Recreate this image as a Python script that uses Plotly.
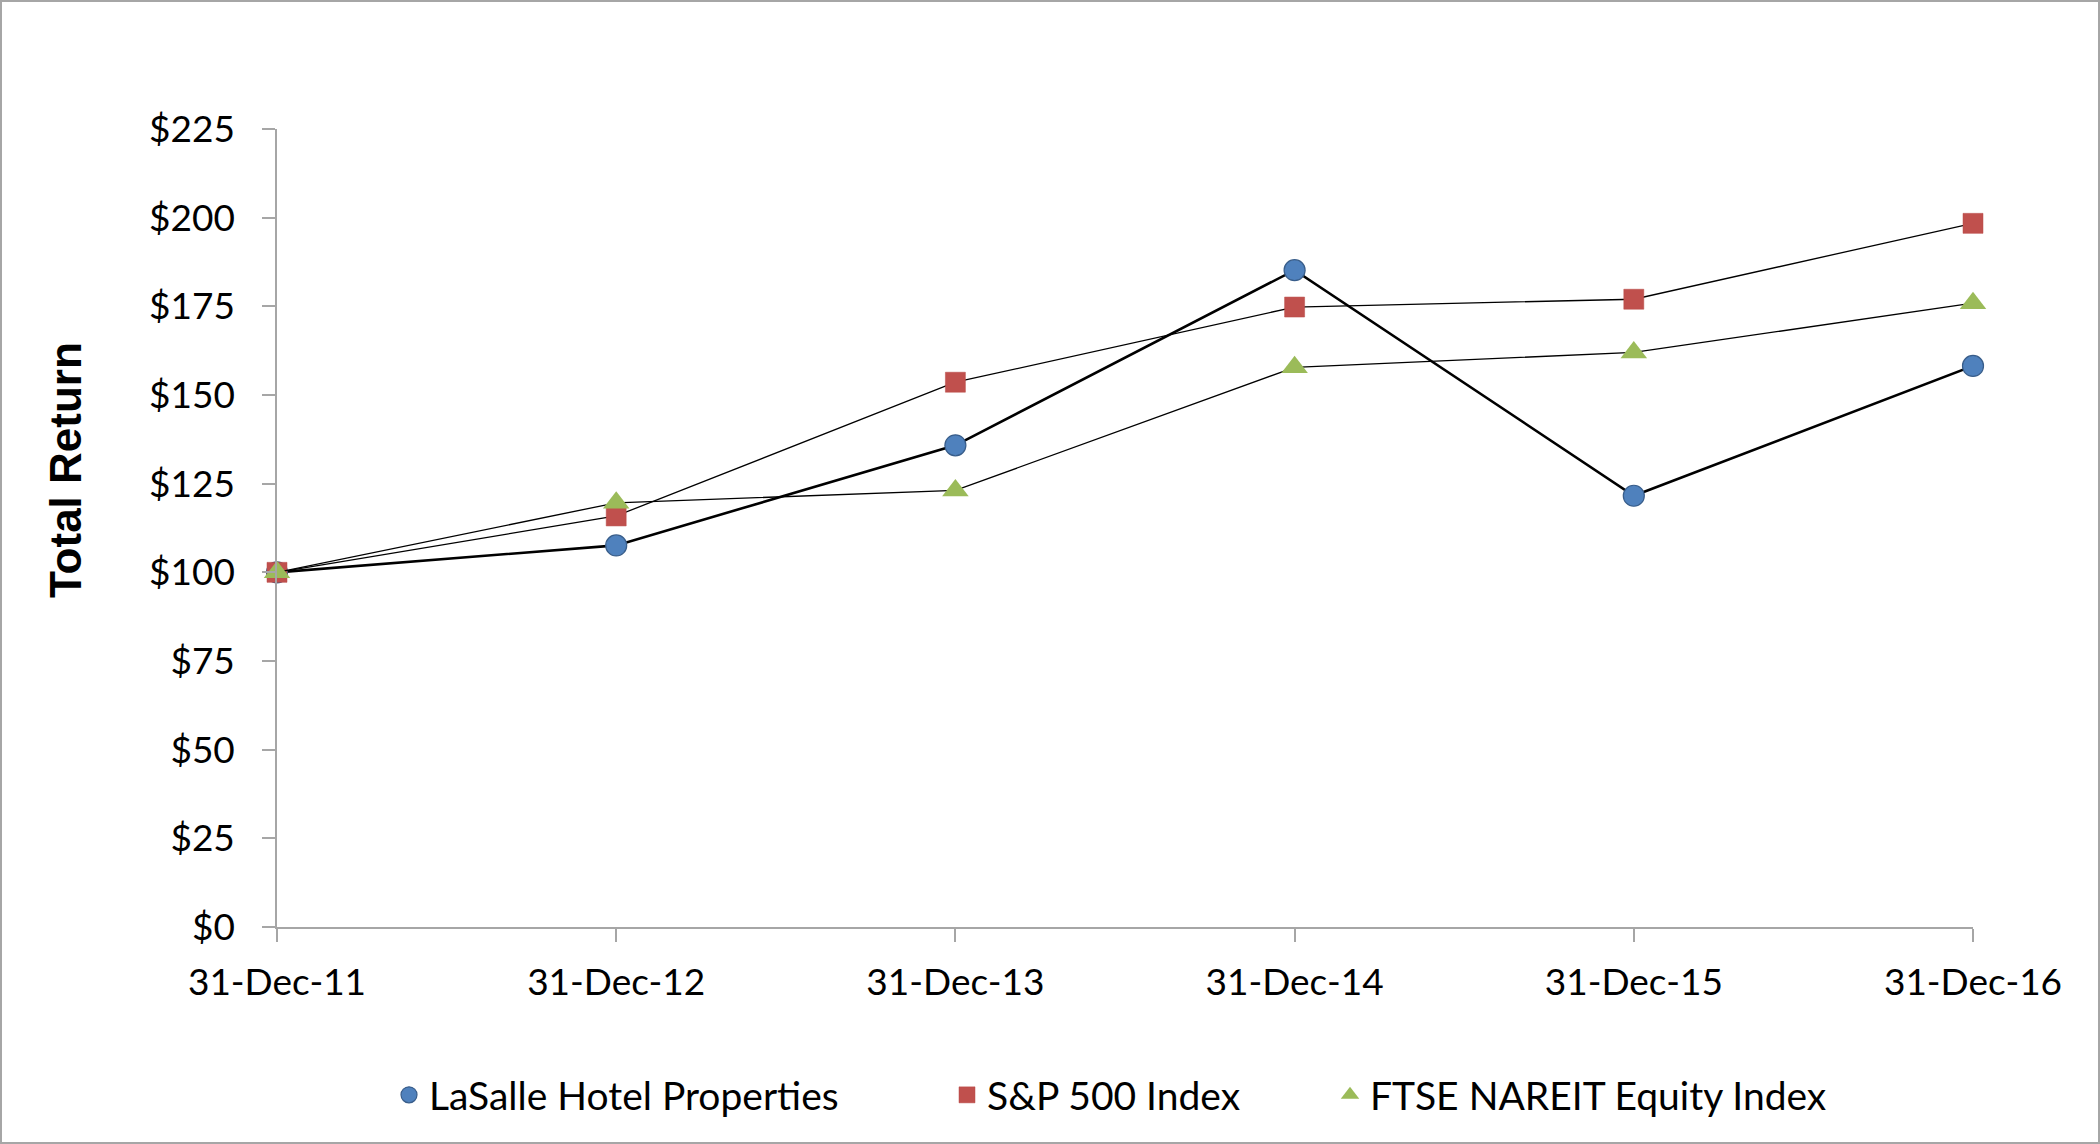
import plotly.graph_objects as go

dates = ["31-Dec-11", "31-Dec-12", "31-Dec-13", "31-Dec-14", "31-Dec-15", "31-Dec-16"]
lasalle = [100, 107.6, 135.8, 185.2, 121.6, 158.2]
sp500 = [100, 115.9, 153.6, 174.8, 177.0, 198.4]
ftse = [100, 119.6, 123.1, 157.8, 162.0, 175.9]
y_ticks = [0, 25, 50, 75, 100, 125, 150, 175, 200, 225]
y_tick_text = ["$" + str(v) for v in y_ticks]

W, H = 2100, 1144
L, R, T, B = 277, 127, 129, 217
pw, ph = W - L - R, H - T - B

FONT = "Lato"

series = [
    ("LaSalle Hotel Properties", lasalle, 2.6,
     dict(symbol="circle", size=21, color="#4F81BD", line=dict(color="#385D8A", width=1.2)), "legend"),
    ("S&P 500 Index", sp500, 1.3,
     dict(symbol="square", size=20, color="#C0504D", line=dict(color="#B84A47", width=0.5)), "legend2"),
    ("FTSE NAREIT Equity Index", ftse, 1.3,
     dict(symbol="triangle-up", size=23, color="#9BBB59", line=dict(width=0)), "legend3"),
]

fig = go.Figure()
for name, vals, lw, mk, leg in series:
    fig.add_trace(go.Scatter(
        x=dates, y=vals, name=name, mode="lines",
        line=dict(color="black", width=lw), showlegend=False, hoverinfo="skip"))
    fig.add_trace(go.Scatter(
        x=dates, y=vals, name=name, mode="markers",
        marker=mk, cliponaxis=False, legend=leg))

def px_x(p):
    return (p - L) / pw

def px_y(p):
    return (H - B - p) / ph

leg_common = dict(orientation="h", yanchor="middle", xanchor="left",
                  font=dict(family=FONT, size=39, color="black"),
                  bgcolor="rgba(0,0,0,0)", borderwidth=0)

fig.update_layout(
    width=W, height=H,
    margin=dict(l=L, r=R, t=T, b=B, autoexpand=False),
    paper_bgcolor="white", plot_bgcolor="white",
    font=dict(family=FONT, size=37, color="black"),
    showlegend=True,
    legend=dict(x=px_x(389), y=px_y(1095), **leg_common),
    legend2=dict(x=px_x(947), y=px_y(1095), **leg_common),
    legend3=dict(x=px_x(1330), y=px_y(1095), **leg_common),
    xaxis=dict(
        type="category", range=[0, 5], showgrid=False, zeroline=False,
        showline=True, linecolor="#A6A6A6", linewidth=1.5,
        ticks="outside", ticklen=13, tickcolor="#A6A6A6", tickwidth=1.5,
        ticklabelstandoff=9,
        tickfont=dict(family=FONT, size=37, color="black")),
    yaxis=dict(
        range=[0, 225], tickvals=y_ticks, ticktext=y_tick_text,
        showgrid=False, zeroline=False,
        showline=True, linecolor="#A6A6A6", linewidth=1.5,
        ticks="outside", ticklen=13, tickcolor="#A6A6A6", tickwidth=1.5,
        ticklabelstandoff=20,
        tickfont=dict(family=FONT, size=37, color="black")),
    annotations=[dict(text="<b>Total Return</b>", textangle=-90, showarrow=False,
                      xref="paper", yref="paper", x=px_x(66), y=px_y(470),
                      xanchor="center", yanchor="middle",
                      font=dict(family="Liberation Sans", size=44, color="black"))],
    shapes=[dict(type="rect", xref="paper", yref="paper",
                 x0=px_x(1), x1=px_x(W - 1), y0=px_y(H - 1), y1=px_y(1),
                 line=dict(color="#A6A6A6", width=2), fillcolor="rgba(0,0,0,0)", layer="below")],
)

fig.write_html("out.html", config={"displayModeBar": False},
               post_script="document.body.style.margin='0';")
